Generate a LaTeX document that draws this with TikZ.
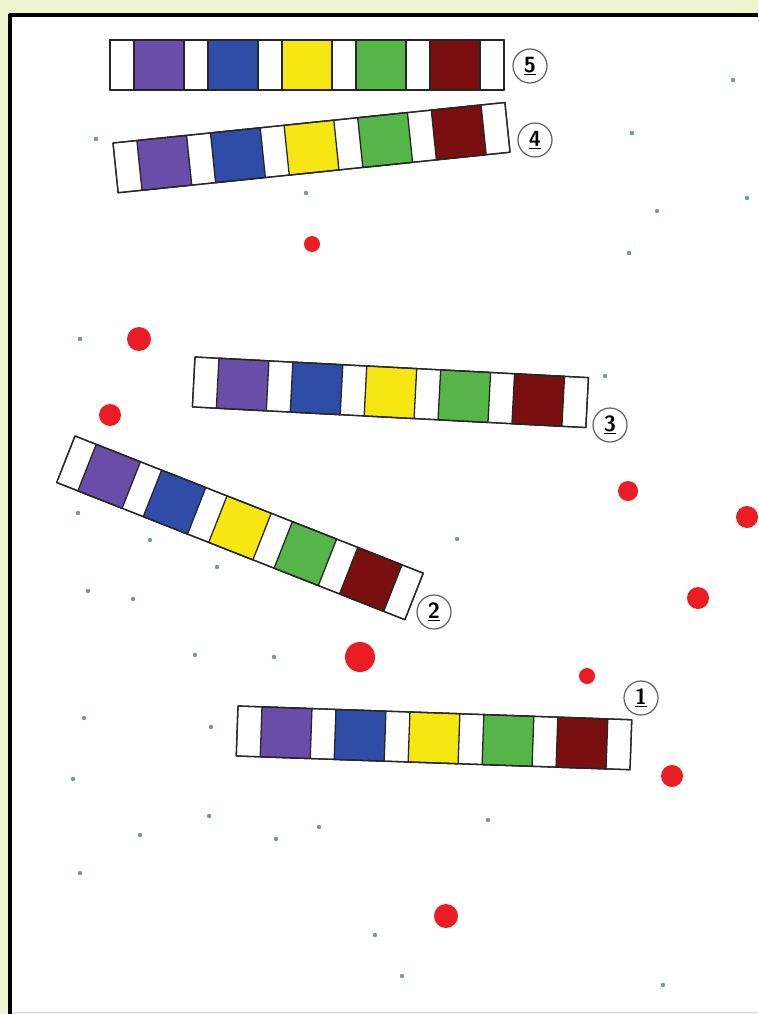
\documentclass[tikz,border=0pt]{standalone}
\usetikzlibrary{positioning}
\definecolor{pagebg}{HTML}{EEF4CF}
\definecolor{stripviolet}{HTML}{6A4DA8}
\definecolor{stripblue}{HTML}{2F4DA6}
\definecolor{stripyellow}{HTML}{F6E612}
\definecolor{stripgreen}{HTML}{55B548}
\definecolor{stripmaroon}{HTML}{7A0F10}
\definecolor{bigdot}{HTML}{EC1C24}
\definecolor{specdot}{HTML}{6E9C98}
\definecolor{tagline}{HTML}{606060}

\begin{document}
\begin{tikzpicture}[
  x=1pt,
  y=-1pt,
  line join=round,
  cellline/.style={draw=black!85,line width=1.3pt},
  tag/.style={circle,draw=tagline,line width=1.2pt,minimum size=34pt,inner sep=0pt,
    font=\fontsize{22}{24}\selectfont\sffamily\bfseries},
  strip/.pic={
    \filldraw[fill=white,cellline] (0,0) rectangle (394,50);
    \foreach \c [count=\i from 0] in {stripviolet,stripblue,stripyellow,stripgreen,stripmaroon} {
      \filldraw[fill=\c,cellline] ({24+74*\i},0) rectangle ({74+74*\i},50);
    }
    \draw[cellline] (0,0) rectangle (394,50);
  }
]
  \useasboundingbox (0,0) rectangle (758,1014);

  % Page and frame.
  \fill[pagebg] (0,0) rectangle (758,1014);
  \fill[white] (10,15) rectangle (758,1012);
  \draw[black!15,line width=1pt] (10,1012) -- (758,1012);
  \draw[black,line width=4pt] (10,1014) -- (10,15) -- (758,15);

  % Small specks in the background.
  \foreach \x/\y in {733/80,96/139,632/133,747/198,306/193,657/211,629/253,80/339,605/376,
      78/513,150/540,457/539,217/567,88/591,133/599,195/655,274/657,84/718,211/727,73/779,
      140/835,209/816,276/839,319/827,488/820,80/873,375/935,402/976,663/985} {
    \fill[specdot] (\x,\y) circle[radius=2.2];
  }

  % Large red dots.
  \foreach \x/\y/\r in {312/244/8,139/339/12,110/415/11,628/491/10,747/517/11,698/598/11,
      360/657/15,587/676/8,672/776/11,446/916/12} {
    \fill[bigdot] (\x,\y) circle[radius=\r];
  }

  % Colour strips, top-left corner and tilt.
  \pic[rotate=0] at (110,40) {strip};
  \pic[rotate=5.9] at (113,143) {strip};
  \pic[rotate=-3] at (195,357) {strip};
  \pic[rotate=-21.5,xscale=0.95] at (75,436) {strip};
  \pic[rotate=-2] at (238,706) {strip};

  % Numbered tags.
  \node[tag] (tag5) at (530,66) {\underline{5}};
  \node[tag] (tag4) at (535,140) {\underline{4}};
  \node[tag] (tag3) at (610,425) {\underline{3}};
  \node[tag] (tag2) at (434,612) {\underline{2}};
  \node[tag] (tag1) at (641,698) {\underline{1}};
\end{tikzpicture}
\end{document}
